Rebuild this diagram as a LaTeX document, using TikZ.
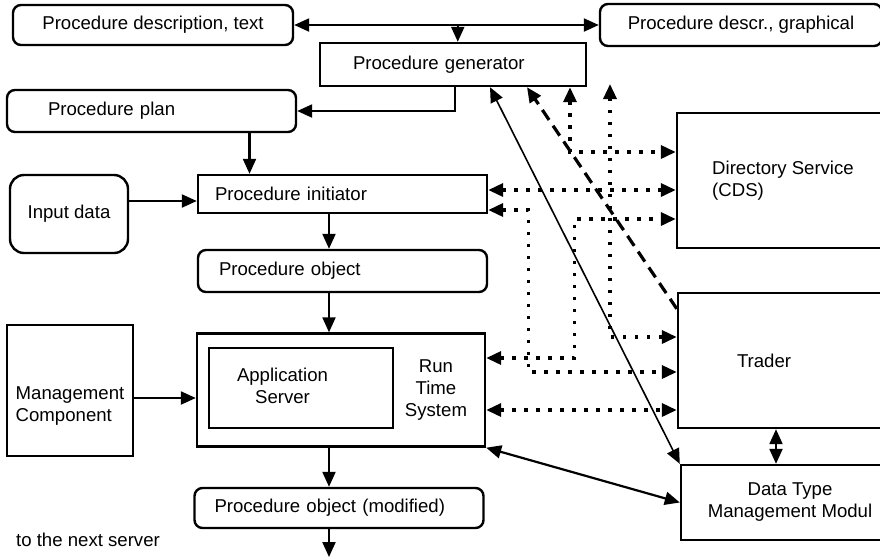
\documentclass[tikz,border=0pt]{standalone}
\usepackage{fontspec}
\setmainfont{Liberation Sans}
\usetikzlibrary{arrows.meta}

\begin{document}
\begin{tikzpicture}[x=0.5pt,y=-0.5pt,>={Triangle[length=7.5pt,width=6.5pt]},
  every node/.style={font=\fontsize{9.3}{11}\selectfont},
  box/.style={draw,line width=1.2pt,inner sep=0pt},
  rbox/.style={box,rounded corners=4pt},
  link/.style={line width=1.1pt},
  dotlink/.style={line width=1.7pt,dash pattern=on 1.6pt off 4.4pt},
  dashlink/.style={line width=1.6pt,dash pattern=on 6pt off 3.5pt}]
\useasboundingbox (0,0) rectangle (880,559);
\node[rbox,minimum width=140pt,minimum height=20pt] (desctext) at (153,25) {Procedure description, text};
\node[rbox,minimum width=141pt,minimum height=21pt] (descgraph) at (741,25) {Procedure descr., graphical};
\node[box,minimum height=21.5pt,inner xsep=16.5pt,text width=100pt,align=left] (gen) at (453,64.5) {Procedure generator};
\node[rbox,minimum height=21pt,inner xsep=20.5pt,text width=103.5pt,align=left] (plan) at (151.5,111) {Procedure plan};
\node[box,minimum height=19pt,inner xsep=8.5pt,text width=127.5pt,align=left] (init) at (342.5,194) {Procedure initiator};
\node[rbox,rounded corners=7pt,minimum width=59pt,minimum height=39pt] (input) at (69,214) {Input data};
\node[rbox,minimum height=21pt,inner xsep=10.5pt,text width=123.5pt,align=left] (obj) at (342.5,271) {Procedure object};
\node[box,minimum height=56.5pt,inner xsep=9pt,text width=126pt,align=right] (rts) at (341,390) {\begin{tabular}{@{}c@{}}Run\\Time\\System\end{tabular}};
\node[box,minimum height=40pt,inner xsep=14pt,text width=64pt,align=left] (app) at (301,388) {\begin{tabular}{@{}c@{}}Application\\Server\end{tabular}};
\node[box,minimum width=63pt,minimum height=65.5pt] (mgmt) at (70,390.5) {\raisebox{-8pt}[\height][\depth]{\begin{tabular}{@{}l@{}}Management\\Component\end{tabular}}};
\node[rbox,minimum height=20pt,inner xsep=10pt,text width=124.5pt,align=left] (mod) at (339,508) {Procedure object (modified)};
\node (next) at (88,540) {to the next server};
\node[box,minimum width=106pt,minimum height=67.5pt,align=left] (ds) at (783,180.5) {Directory Service\\(CDS)};
\node[box,minimum height=67.5pt,inner xsep=29.5pt,text width=44pt,align=left] (trader) at (781,360.5) {Trader};
\node[box,minimum width=109pt,minimum height=37.5pt,align=center] (dtmm) at (790,502.5) {Data Type\\Management Modul};
\coordinate (spine) at (329,0);
\coordinate (out) at (329,557);
\coordinate (free) at (610,84);
% main flow
\draw[link,<->] (desctext.east) -- coordinate[pos=0.537] (split) (descgraph.west);
\draw[link,->] (split) -- (split |- gen.north);
\draw[link,->] ([xshift=1pt]gen.south) |- (plan.east);
\draw[link,->] ([xshift=49pt]plan.south) -- ([xshift=49pt]plan.south |- init.north);
\draw[link,->] ([yshift=6.5pt]input.east) -- ([yshift=6.5pt]input.east -| init.west);
\draw[link,->] (init.south -| spine) -- (obj.north -| spine);
\draw[link,->] (obj.south -| spine) -- (rts.north -| spine);
\draw[link,->] ([yshift=-3.75pt]mgmt.east) -- ([yshift=-3.75pt]mgmt.east -| rts.west);
\draw[link,->] (rts.south -| spine) -- (mod.north -| spine);
\draw[link,->] (mod.south -| spine) -- (out);
% services
\draw[dotlink,<->] ([xshift=58.5pt]gen.south) |- ([yshift=14.25pt]ds.west);
\draw[dotlink,<->] (free) |- ([yshift=11.75pt]trader.west);
\draw[dotlink,<->] ([yshift=2pt]init.east) -- ([yshift=2pt]init.east -| ds.west);
\draw[dotlink,<->] ([yshift=-8pt]init.east) -- ++(20pt,0) |- ([yshift=-5.75pt]trader.west);
\draw[dotlink,<->] ([yshift=16pt]rts.east) -- ++(44pt,0) |- ([yshift=-19.25pt]ds.west);
\draw[dotlink,<->] ([yshift=-10pt]rts.east) -- ([yshift=-10pt]rts.east -| trader.west);
\draw[line width=0.8pt,<->] ([xshift=18.5pt]gen.south) -- (dtmm.north west);
\draw[dashlink,->] ([yshift=-8.5pt]trader.north west) -- ([xshift=37pt]gen.south);
\draw[link,<->] (rts.south east) -- (dtmm.west);
\draw[link,<->] ([xshift=-2.5pt]trader.south) -- ([xshift=-2.5pt]trader.south |- dtmm.north);
\end{tikzpicture}
\end{document}
